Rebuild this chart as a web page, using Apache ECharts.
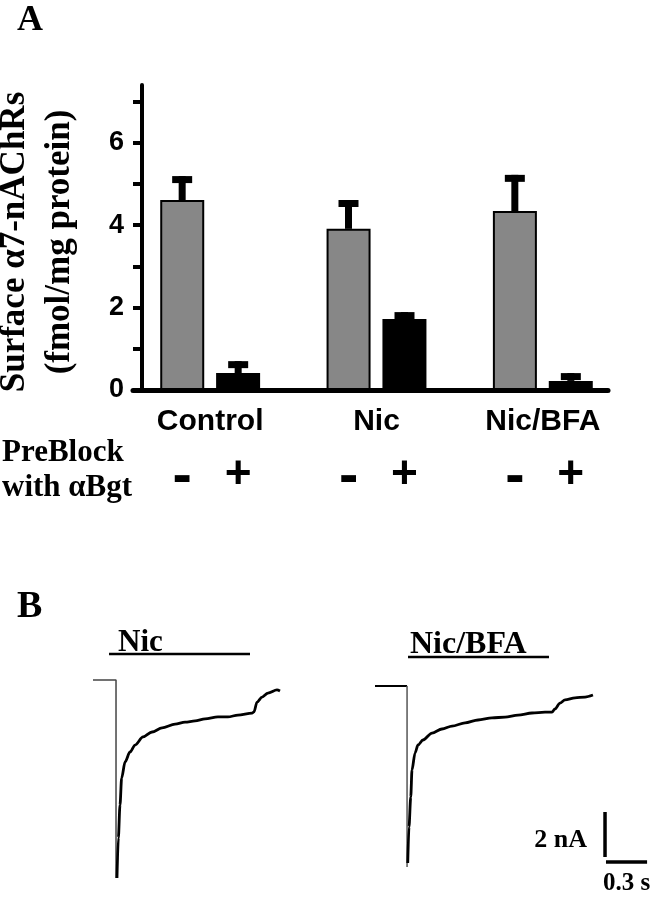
<!DOCTYPE html>
<html><head><meta charset="utf-8">
<script src="https://cdn.jsdelivr.net/npm/echarts@6/dist/echarts.min.js"></script>
<style>html,body{margin:0;padding:0;background:#fff}#c{width:652px;height:899px}</style>
</head><body><div id="c"></div>
<script>
// ---------- Panel A data ----------
const categories = ['Control', 'Nic', 'Nic/BFA'];
const preblockMinus = [4.61, 3.91, 4.34];      // grey bars, no αBgt pre-block
const preblockMinusErr = [0.58, 0.70, 0.88];
const preblockPlus = [0.41, 1.72, 0.22];       // black bars, pre-blocked with αBgt
const preblockPlusErr = [0.29, 0.17, 0.19];
const yTickValues = [0, 1, 2, 3, 4, 5, 6, 7];
const yLabelValues = [0, 2, 4, 6];
const preblockMarks = ['-', '+'];

// ---------- Panel B data (time s, current nA) ----------
const nicBaseline = [[0, 0], [0.168, 0], [0.168, -8.80]];
const nicTrace = [
  [0.175, -8.80], [0.185, -7.02], [0.197, -5.56], [0.209, -4.36], [0.234, -3.64],
  [0.270, -3.20], [0.307, -2.89], [0.365, -2.53], [0.431, -2.31], [0.504, -2.13],
  [0.599, -1.96], [0.672, -1.87], [0.745, -1.82], [0.818, -1.73], [0.912, -1.64],
  [0.985, -1.64], [1.058, -1.56], [1.161, -1.47], [1.175, -1.42], [1.197, -0.98],
  [1.234, -0.76], [1.277, -0.58], [1.343, -0.44], [1.365, -0.49]
];
const bfaBaseline = [[0, 0], [0.234, 0], [0.234, -8.04]];
const bfaTrace = [
  [0.239, -7.87], [0.248, -6.27], [0.261, -4.93], [0.270, -3.73], [0.292, -2.98],
  [0.314, -2.62], [0.350, -2.40], [0.416, -2.09], [0.489, -1.91], [0.562, -1.78],
  [0.657, -1.64], [0.752, -1.51], [0.854, -1.42], [0.949, -1.38], [1.044, -1.29],
  [1.146, -1.20], [1.241, -1.16], [1.292, -1.16], [1.314, -1.02], [1.350, -0.76],
  [1.387, -0.62], [1.460, -0.53], [1.533, -0.49], [1.591, -0.40]
];
const nicApplication = [0.117, 1.146];
const bfaApplication = [0.241, 1.270];
const scaleCurrent = 2;   // nA
const scaleTime = 0.3;    // s

const SERIF = '"Liberation Serif","Times New Roman",serif';
const SANS = '"Liberation Sans",Arial,sans-serif';

function errRender(sign) {
  return function (params, api) {
    const i = api.value(0), m = api.value(1), e = api.value(2);
    const base = api.coord([i, m]);
    const top = api.coord([i, m + e]);
    const cx = base[0] + sign * 28;
    return {
      type: 'group', children: [
        { type: 'rect', shape: { x: cx - 3.5, y: top[1], width: 7, height: base[1] - top[1] }, style: { fill: '#000' } },
        { type: 'rect', shape: { x: cx - 10, y: top[1], width: 20, height: 7 }, style: { fill: '#000' } }
      ]
    };
  };
}

const chart = echarts.init(document.getElementById('c'), null, { renderer: 'canvas' });
const hidden = { show: false };
const stimY1 = 1.16, stimY2 = 1.29;
const sbX = 1.679, sbY = -7.6, sbHY = -7.82, sbHX = 1.686;

chart.setOption({
  animation: false,
  backgroundColor: '#fff',
  grid: [
    { left: 127, width: 499, top: 85, height: 305 },
    { left: 133, width: 475, top: 85, height: 305 },
    { left: 93, width: 274, top: 644, height: 243 },
    { left: 375, width: 274, top: 650, height: 243 }
  ],
  xAxis: [
    { gridIndex: 0, type: 'category', data: categories, axisLine: hidden, axisTick: hidden,
      axisLabel: { fontFamily: SANS, fontWeight: 'bold', fontSize: 30, color: '#000', margin: 17 } },
    { gridIndex: 1, type: 'value', min: 0, max: 1, axisLine: { show: true, lineStyle: { color: '#000', width: 5 } },
      axisTick: hidden, axisLabel: hidden, splitLine: hidden },
    { gridIndex: 2, type: 'value', min: 0, max: 2, show: false },
    { gridIndex: 3, type: 'value', min: 0, max: 2, show: false }
  ],
  yAxis: [
    { gridIndex: 0, type: 'value', min: 0, max: 7.4, interval: 1, offset: -15,
      axisLine: { show: true, lineStyle: { color: '#000', width: 4 } },
      axisTick: { show: true, inside: false, length: 9, lineStyle: { color: '#000', width: 4 }, customValues: yTickValues },
      axisLabel: { fontFamily: SANS, fontWeight: 'bold', fontSize: 27, color: '#000', margin: 18,
        customValues: yLabelValues, formatter: v => (v % 2 === 0 ? String(v) : '') },
      splitLine: hidden },
    { gridIndex: 1, type: 'value', min: 0, max: 1, show: false },
    { gridIndex: 2, type: 'value', min: -9.2, max: 1.6, show: false },
    { gridIndex: 3, type: 'value', min: -9.2, max: 1.6, show: false }
  ],
  series: [
    { type: 'bar', xAxisIndex: 0, yAxisIndex: 0, data: preblockMinus, barWidth: 44, barGap: '27%',
      itemStyle: { color: '#878787', borderColor: '#000', borderWidth: 2 },
      label: { show: true, position: 'bottom', distance: 59, formatter: preblockMarks[0],
        fontFamily: SANS, fontWeight: 'bold', fontSize: 58, color: '#000' }, z: 2 },
    { type: 'bar', xAxisIndex: 0, yAxisIndex: 0, data: preblockPlus, barWidth: 44,
      itemStyle: { color: '#000', borderColor: '#000', borderWidth: 2 },
      label: { show: true, position: 'bottom', distance: 62, formatter: preblockMarks[1],
        fontFamily: SANS, fontWeight: 'bold', fontSize: 46, color: '#000' }, z: 2 },
    { type: 'custom', xAxisIndex: 0, yAxisIndex: 0, renderItem: errRender(-1), z: 3,
      data: preblockMinus.map((m, i) => [i, m, preblockMinusErr[i]]), encode: { x: 0, y: 1 } },
    { type: 'custom', xAxisIndex: 0, yAxisIndex: 0, renderItem: errRender(1), z: 3,
      data: preblockPlus.map((m, i) => [i, m, preblockPlusErr[i]]), encode: { x: 0, y: 1 } },

    // Panel B
    { type: 'line', xAxisIndex: 2, yAxisIndex: 2, data: nicBaseline, symbol: 'none',
      lineStyle: { color: '#444', width: 1.5 } },
    { type: 'line', xAxisIndex: 2, yAxisIndex: 2, data: nicTrace, symbol: 'none', smooth: 0.3, smoothMonotone: 'x',
      lineStyle: { color: '#000', width: 2.8 } },
    { type: 'line', xAxisIndex: 2, yAxisIndex: 2, data: nicApplication.map(t => [t, stimY1]), symbol: 'none',
      lineStyle: { color: '#000', width: 2.5 } },
    { type: 'line', xAxisIndex: 3, yAxisIndex: 3, data: bfaBaseline.slice(0, 2), symbol: 'none',
      lineStyle: { color: '#000', width: 2.2 } },
    { type: 'line', xAxisIndex: 3, yAxisIndex: 3, data: bfaBaseline.slice(1), symbol: 'none',
      lineStyle: { color: '#555', width: 1.5 } },
    { type: 'line', xAxisIndex: 3, yAxisIndex: 3, data: bfaTrace, symbol: 'none', smooth: 0.3, smoothMonotone: 'x',
      lineStyle: { color: '#000', width: 2.8 } },
    { type: 'line', xAxisIndex: 3, yAxisIndex: 3, data: bfaApplication.map(t => [t, stimY2]), symbol: 'none',
      lineStyle: { color: '#000', width: 2.5 } },
    { type: 'line', xAxisIndex: 3, yAxisIndex: 3, data: [[sbX, sbY], [sbX, sbY + scaleCurrent]], symbol: 'none',
      lineStyle: { color: '#000', width: 3.5, cap: 'butt' } },
    { type: 'line', xAxisIndex: 3, yAxisIndex: 3, data: [[sbHX, sbHY], [sbHX + scaleTime, sbHY]], symbol: 'none',
      lineStyle: { color: '#000', width: 3.5, cap: 'butt' } }
  ],
  graphic: [
    { type: 'text', left: 17, top: 3, style: { text: 'A', font: 'bold 36px ' + SERIF, fill: '#000' } },
    { type: 'text', left: 17, top: 588, style: { text: 'B', font: 'bold 38px ' + SERIF, fill: '#000' } },
    { type: 'text', x: 15, y: 242, rotation: Math.PI / 2,
      style: { text: 'Surface \u03b17-nAChRs', font: 'bold 35px ' + SERIF, fill: '#000', align: 'center', verticalAlign: 'middle' } },
    { type: 'text', x: 60, y: 242, rotation: Math.PI / 2,
      style: { text: '(fmol/mg protein)', font: 'bold 35px ' + SERIF, fill: '#000', align: 'center', verticalAlign: 'middle' } },
    { type: 'text', x: 2, y: 453, style: { text: 'PreBlock', font: 'bold 31px ' + SERIF, fill: '#000', align: 'left', verticalAlign: 'middle' } },
    { type: 'text', x: 2, y: 488, style: { text: 'with \u03b1Bgt', font: 'bold 31px ' + SERIF, fill: '#000', align: 'left', verticalAlign: 'middle' } },
    { type: 'text', x: 118, y: 643, style: { text: 'Nic', font: 'bold 31px ' + SERIF, fill: '#000', align: 'left', verticalAlign: 'middle' } },
    { type: 'text', x: 410, y: 645, style: { text: 'Nic/BFA', font: 'bold 32px ' + SERIF, fill: '#000', align: 'left', verticalAlign: 'middle' } },
    { type: 'text', x: 587, y: 840, style: { text: '2 nA', font: 'bold 26px ' + SERIF, fill: '#000', align: 'right', verticalAlign: 'middle' } },
    { type: 'text', x: 603, y: 884, style: { text: '0.3 s', font: 'bold 25px ' + SERIF, fill: '#000', align: 'left', verticalAlign: 'middle' } }
  ]
});
</script></body></html>
